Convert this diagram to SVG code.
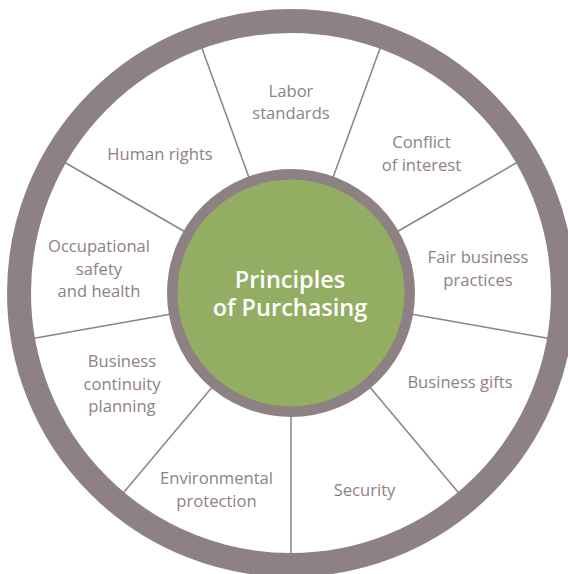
<svg xmlns="http://www.w3.org/2000/svg" width="568" height="574" viewBox="0 0 568 574">
<style>
.lbl{font-family:"Open Sans","Liberation Sans",sans-serif;font-size:16.6px;fill:#8e8184;text-anchor:middle}
.ctr{font-family:"Open Sans","Liberation Sans",sans-serif;font-size:23.5px;font-weight:600;fill:#ffffff;text-anchor:middle}
.spoke{stroke:#8e8184;stroke-width:1.5;fill:none}
</style>
<rect width="568" height="574" fill="#ffffff"/>
<g id="connectors">
<line class="spoke" x1="409.2" y1="313.8" x2="552.0" y2="339.0"/>
<line class="spoke" x1="368.1" y1="384.9" x2="461.3" y2="496.0"/>
<line class="spoke" x1="291" y1="413" x2="291" y2="558"/>
<line class="spoke" x1="213.9" y1="384.9" x2="120.7" y2="496.0"/>
<line class="spoke" x1="172.8" y1="313.8" x2="30.0" y2="339.0"/>
<line class="spoke" x1="187.1" y1="233.0" x2="61.5" y2="160.5"/>
<line class="spoke" x1="250.0" y1="180.2" x2="200.4" y2="44.0"/>
<line class="spoke" x1="332.0" y1="180.2" x2="381.6" y2="44.0"/>
<line class="spoke" x1="394.9" y1="233.0" x2="520.5" y2="160.5"/>
</g>
<g id="outer-ring">
<circle cx="291" cy="293" r="272" fill="none" stroke="#8e8184" stroke-width="24"/>
</g>
<g id="center">
<circle cx="291" cy="293" r="118.75" fill="#93ad62" stroke="#8e8184" stroke-width="10.5"/>
<text class="ctr" x="290" y="288">Principles</text>
<text class="ctr" x="290" y="316">of Purchasing</text>
</g>
<g id="labor-standards"><text class="lbl" x="291" y="97">Labor</text><text class="lbl" x="291" y="119">standards</text></g>
<g id="conflict-of-interest"><text class="lbl" x="421.5" y="148">Conflict</text><text class="lbl" x="421.5" y="171">of interest</text></g>
<g id="fair-business-practices"><text class="lbl" x="478" y="263">Fair business</text><text class="lbl" x="478" y="285.5">practices</text></g>
<g id="business-gifts"><text class="lbl" x="460" y="388">Business gifts</text></g>
<g id="security"><text class="lbl" x="364.5" y="496">Security</text></g>
<g id="environmental-protection"><text class="lbl" x="216.5" y="484">Environmental</text><text class="lbl" x="216.5" y="506.5">protection</text></g>
<g id="business-continuity-planning"><text class="lbl" x="122" y="367">Business</text><text class="lbl" x="122" y="389.5">continuity</text><text class="lbl" x="122" y="412">planning</text></g>
<g id="occupational-safety-health"><text class="lbl" x="99" y="252">Occupational</text><text class="lbl" x="99" y="274.5">safety</text><text class="lbl" x="99" y="297">and health</text></g>
<g id="human-rights"><text class="lbl" x="160" y="160">Human rights</text></g>
</svg>
